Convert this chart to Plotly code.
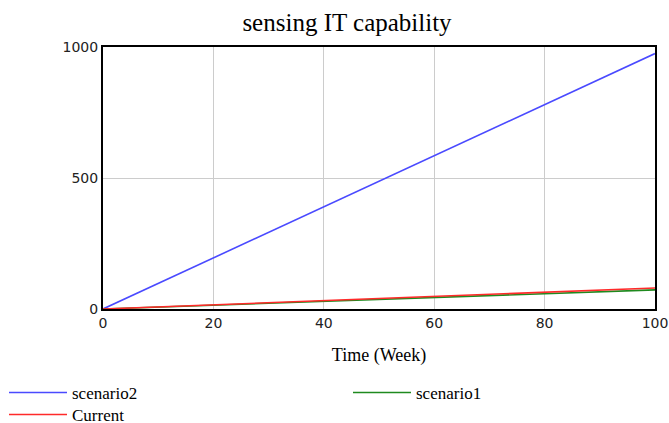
import plotly.graph_objects as go

time = [0, 20, 40, 60, 80, 100]
scenario2 = [0, 195, 390, 585, 780, 975]
scenario1 = [0, 14.6, 29.2, 43.8, 58.4, 73]
current = [0, 16, 32, 48, 64, 80]

x_ticks = [0, 20, 40, 60, 80, 100]
y_ticks = [0, 500, 1000]

serif = "Liberation Serif, Times New Roman, serif"
sans = "DejaVu Sans, Verdana, sans-serif"

fig = go.Figure()
fig.add_trace(go.Scatter(x=time, y=scenario2, mode="lines", name="scenario2",
                         line=dict(color="#4a4aff", width=1.6), legend="legend"))
fig.add_trace(go.Scatter(x=time, y=scenario1, mode="lines", name="scenario1",
                         line=dict(color="#1f8a1f", width=1.6), legend="legend2"))
fig.add_trace(go.Scatter(x=time, y=current, mode="lines", name="Current",
                         line=dict(color="#ff2a2a", width=1.6), legend="legend3"))

legend_common = dict(orientation="v", xref="container", yref="container",
                     xanchor="left", yanchor="top", itemwidth=58,
                     font=dict(size=17, family=serif), tracegroupgap=0,
                     bgcolor="rgba(0,0,0,0)", traceorder="normal")

fig.update_layout(
    width=669, height=423,
    margin=dict(l=103, r=14, t=47, b=114, autoexpand=False),
    paper_bgcolor="white", plot_bgcolor="white",
    font=dict(family=serif, color="black", size=16),
    title=dict(text="sensing IT capability", x=347/669, xanchor="center",
               xref="container", y=1 - 22/423, yanchor="middle", yref="container",
               font=dict(size=25, family=serif)),
    xaxis=dict(range=[0, 100], tickvals=x_ticks, showgrid=True, gridcolor="#cccccc",
               gridwidth=1, showline=True, linecolor="black", linewidth=2, mirror=True,
               zeroline=False, ticks="",
               title=dict(text="Time (Week)", font=dict(size=18, family=serif), standoff=19),
               tickfont=dict(size=14, family=sans, color="#222222")),
    yaxis=dict(range=[0, 1000], tickvals=y_ticks, showgrid=True, gridcolor="#cccccc",
               gridwidth=1, showline=True, linecolor="black", linewidth=2, mirror=True,
               zeroline=False, ticks="", tickfont=dict(size=14, family=sans, color="#222222")),
    legend=dict(legend_common, x=4/669, y=1 - 375/423),
    legend2=dict(legend_common, x=348/669, y=1 - 375/423),
    legend3=dict(legend_common, x=4/669, y=1 - 397/423),
    showlegend=True,
)

fig.write_html("out.html", config={"displayModeBar": False},
               post_script="document.body.style.margin='0px';")
